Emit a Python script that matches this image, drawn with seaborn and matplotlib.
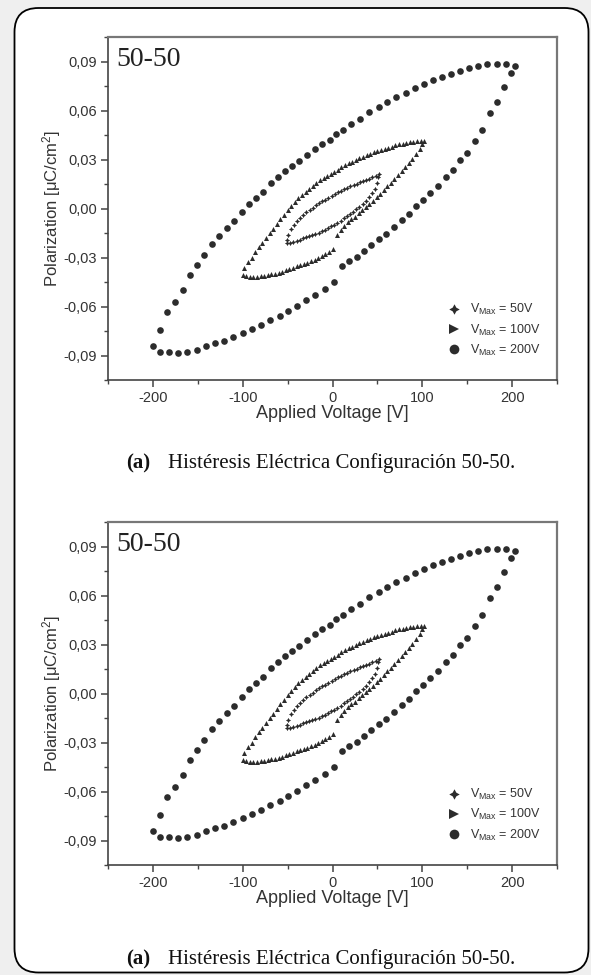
import matplotlib
matplotlib.use("Agg")
import matplotlib.pyplot as plt
import numpy as np
import pandas as pd
import seaborn as sns
from matplotlib.patches import FancyBboxPatch
from matplotlib.lines import Line2D
from matplotlib.ticker import MultipleLocator
from matplotlib.transforms import IdentityTransform

# ---- measured hysteresis loops (applied voltage [V], polarization [uC/cm^2]) ----
# V_max = 200 V
v_200 = [11, 18, 27, 35, 43, 52, 60, 68, 77, 85, 93, 101, 109, 117, 126, 134, 142, 150,
         159, 167, 175, 183, 191, 199, 203,
         193, 183, 172, 162, 152, 142, 132, 122, 112, 102, 92, 82, 71, 61, 52, 41, 31, 21, 12,
         4, -3, -12, -20, -28, -37, -45, -53, -61, -69, -77, -85, -93, -101, -110, -118, -126,
         -134, -143, -151, -159, -167, -175, -184, -192, -200,
         -192, -182, -172, -162, -151, -141, -131, -121, -111, -100, -90, -80, -70, -59, -49,
         -39, -29, -19, -8, 2]
p_200 = [-0.0351, -0.0320, -0.0296, -0.0259, -0.0222, -0.0189, -0.0156, -0.0115, -0.0072,
         -0.0036, 0.0015, 0.0050, 0.0093, 0.0138, 0.0193, 0.0236, 0.0298, 0.0339,
         0.0416, 0.0482, 0.0584, 0.0649, 0.0741, 0.0829, 0.0870,
         0.0885, 0.0887, 0.0882, 0.0874, 0.0862, 0.0844, 0.0825, 0.0803, 0.0784, 0.0764,
         0.0737, 0.0709, 0.0682, 0.0653, 0.0621, 0.0588, 0.0551, 0.0520, 0.0482,
         0.0458, 0.0420, 0.0394, 0.0363, 0.0328, 0.0293, 0.0261, 0.0232, 0.0191, 0.0155,
         0.0101, 0.0065, 0.0025, -0.0019, -0.0075, -0.0122, -0.0167,
         -0.0216, -0.0285, -0.0345, -0.0408, -0.0496, -0.0574, -0.0635, -0.0745, -0.0844,
         -0.0879, -0.0879, -0.0882, -0.0879, -0.0864, -0.0844, -0.0825, -0.0809, -0.0784,
         -0.0764, -0.0739, -0.0713, -0.0684, -0.0660, -0.0629,
         -0.0596, -0.0561, -0.0527, -0.0490, -0.0449]

# V_max = 100 V
v_100 = [102, 98, 94, 90, 86, 82, 78, 74, 70, 66, 62, 58, 54, 50, 46, 42, 38, 34, 30, 26,
         22, 18, 14, 10, 6, 2, -2, -6, -10, -14, -18, -22, -26, -30, -34, -38, -42, -46,
         -50, -54, -58, -62, -66, -70, -74, -78, -82, -86, -90, -94, -98,
         -100, -96, -92, -88, -84, -80, -76, -72, -68, -64, -60, -56, -52, -48, -44, -40,
         -36, -32, -28, -24, -20, -16, -12, -8, -4, 0,
         5, 9, 13, 17, 21, 25, 29, 33, 37, 41, 45, 49, 53, 57, 61, 65, 69, 73, 77, 81, 85,
         89, 93, 97, 100]
p_100 = [0.0416, 0.0415, 0.0413, 0.0410, 0.0405, 0.0400, 0.0396, 0.0392, 0.0386, 0.0379,
         0.0372, 0.0365, 0.0357, 0.0350, 0.0343, 0.0336, 0.0328, 0.0318, 0.0308, 0.0298,
         0.0287, 0.0276, 0.0264, 0.0252, 0.0238, 0.0226, 0.0214, 0.0200, 0.0186, 0.0172,
         0.0156, 0.0139, 0.0121, 0.0103, 0.0082, 0.0062, 0.0040, 0.0016,
         -0.0010, -0.0037, -0.0066, -0.0095, -0.0124, -0.0153, -0.0182, -0.0210, -0.0238,
         -0.0268, -0.0300, -0.0330, -0.0362,
         -0.0408, -0.0416, -0.0418, -0.0419, -0.0418, -0.0416, -0.0412, -0.0408, -0.0404,
         -0.0399, -0.0394, -0.0386, -0.0378, -0.0370, -0.0362, -0.0354,
         -0.0347, -0.0339, -0.0331, -0.0322, -0.0313, -0.0303, -0.0292, -0.0281, -0.0268,
         -0.0250,
         -0.0160, -0.0130, -0.0105, -0.0085, -0.0066, -0.0049, -0.0030, -0.0010, 0.0008,
         0.0027, 0.0046, 0.0068, 0.0090, 0.0113, 0.0135, 0.0157, 0.0180, 0.0203, 0.0228,
         0.0252, 0.0277, 0.0305, 0.0333, 0.0365, 0.0395]

# V_max = 50 V
v_50 = [51.5, 48, 44.5, 41, 37.5, 34, 30.5, 27, 23.5, 20, 16.5, 13, 9.5, 6, 2.5, -1, -4.5,
        -8, -11.5, -15, -18.5, -22, -25.5, -29, -32.5, -36, -39.5, -43, -46.5, -49, -50.5,
        -50.5, -47, -43.5, -40, -36.5, -33, -29.5, -26, -22.5, -19, -15.5, -12, -8.5, -5,
        -1.5, 2, 5.5, 9, 12.5, 16, 19.5, 23, 26.5, 30, 33.5, 37, 40.5, 44, 47, 49.5, 51]
p_50 = [0.0212, 0.0200, 0.0190, 0.0182, 0.0175, 0.0168, 0.0161, 0.0153, 0.0145, 0.0137,
        0.0128, 0.0119, 0.0109, 0.0099, 0.0088, 0.0077, 0.0066, 0.0055, 0.0044, 0.0032,
        0.0019, 0.0006, -0.0008, -0.0023, -0.0040, -0.0058, -0.0078, -0.0100, -0.0128,
        -0.0160, -0.0195,
        -0.0214, -0.0210, -0.0204, -0.0197, -0.0190, -0.0183, -0.0176, -0.0169, -0.0162,
        -0.0155, -0.0147, -0.0139, -0.0130, -0.0120, -0.0109, -0.0098, -0.0086, -0.0074,
        -0.0061, -0.0048, -0.0034, -0.0020, -0.0005, 0.0011, 0.0028, 0.0047, 0.0068,
        0.0092, 0.0120, 0.0155, 0.0190]

legend_labels = ["V$_{Max}$ = 50V", "V$_{Max}$ = 100V", "V$_{Max}$ = 200V"]
x_ticks = [-200, -100, 0, 100, 200]
x_tick_labels = ["-200", "-100", "0", "100", "200"]
y_ticks = [-0.09, -0.06, -0.03, 0.00, 0.03, 0.06, 0.09]
y_tick_labels = ["-0,09", "-0,06", "-0,03", "0,00", "0,03", "0,06", "0,09"]
sample_label = "50-50"
caption_tag = "(a)"
caption_text = "Histéresis Eléctrica Configuración 50-50."

# ---- styling ----
sns.set_style("ticks")
plt.rcParams["font.family"] = ["Liberation Sans", "DejaVu Sans"]
plt.rcParams["mathtext.default"] = "regular"

INK = "#2c2c2c"
TXT = "#333333"
W, H = 591, 975

fig = plt.figure(figsize=(W / 100, H / 100), dpi=100, facecolor="#efefef")

# rounded white card holding both figures (drawn beneath the axes)
card = FancyBboxPatch((14.5, 2.5), 574, 964.5,
                      boxstyle="round,pad=0,rounding_size=24",
                      transform=IdentityTransform(), facecolor="white",
                      edgecolor="black", linewidth=1.3, zorder=-5)
fig.patches.append(card)

series = [
    (v_50, p_50, (4, 1, 0), 14),
    (v_100, p_100, "^", 13),
    (v_200, p_200, "o", 23),
]
legend_markers = [((4, 1, 0), 7.5), (">", 7), ("o", 7)]


def draw_panel(top_px, cap_y):
    ax = fig.add_axes([108 / W, 1 - (top_px + 343) / H, 449 / W, 343 / H])
    ax.set_zorder(2)
    for v, p, mk, s in series:
        df = pd.DataFrame({"V": v, "P": p})
        sns.scatterplot(data=df, x="V", y="P", marker=mk, s=s, color=INK,
                        linewidth=0, ax=ax, legend=False, zorder=3)
    ax.set_xlim(-250, 250)
    ax.set_ylim(-0.105, 0.105)
    ax.set_xticks(x_ticks)
    ax.set_xticklabels(x_tick_labels)
    ax.set_yticks(y_ticks)
    ax.set_yticklabels(y_tick_labels)
    ax.xaxis.set_minor_locator(MultipleLocator(50))
    ax.yaxis.set_minor_locator(MultipleLocator(0.015))
    ax.tick_params(which="major", direction="out", length=5, width=1.1,
                   color="#444444", labelsize=10.5, labelcolor=TXT, pad=3)
    ax.tick_params(which="minor", direction="out", length=3, width=1.0,
                   color="#444444")
    for side in ["left", "bottom"]:
        ax.spines[side].set_color("#444444")
        ax.spines[side].set_linewidth(1.2)
    for side in ["top", "right"]:
        ax.spines[side].set_color("#777777")
        ax.spines[side].set_linewidth(1.6)
    ax.set_xlabel("Applied Voltage [V]", fontsize=13, color=TXT, labelpad=0)
    ax.set_ylabel("Polarization [μC/cm$^2$]", fontsize=12, color=TXT, labelpad=0)
    ax.text(0.018, 0.97, sample_label, transform=ax.transAxes, ha="left", va="top",
            fontsize=20, family="Liberation Serif", color="#222222")

    handles = [Line2D([], [], ls="", marker=m, markersize=ms, color=INK,
                      markeredgewidth=0) for m, ms in legend_markers]
    ax.legend(handles, legend_labels, loc="lower right",
              bbox_to_anchor=(0.975, 0.05), frameon=False, fontsize=9,
              labelcolor=TXT, handlelength=1.0, handletextpad=0.8,
              labelspacing=0.42, borderaxespad=0)

    fig.text(126 / W, 1 - cap_y / H, caption_tag, ha="left", va="center",
             fontsize=15, fontweight="bold", family="Liberation Serif", color="#111111")
    fig.text(168 / W, 1 - cap_y / H, caption_text, ha="left", va="center",
             fontsize=15, family="Liberation Serif", color="#111111")
    return ax


draw_panel(37, 463)
draw_panel(522, 959)

fig.savefig("out.png", dpi=100, facecolor=fig.get_facecolor())
